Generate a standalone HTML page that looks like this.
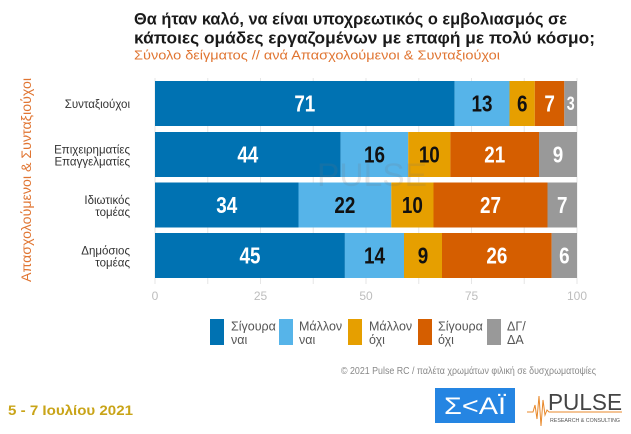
<!DOCTYPE html>
<html><head><meta charset="utf-8"><style>
html,body{margin:0;padding:0;background:#fff;}
svg{display:block;font-family:"Liberation Sans","DejaVu Sans",sans-serif;}
</style></head><body>
<svg width="631" height="434" viewBox="0 0 631 434" xmlns="http://www.w3.org/2000/svg">
<rect width="631" height="434" fill="#fff"/>
<!-- Title -->
<text x="134" y="24.5" font-size="17" font-weight="bold" fill="#1a1a1a" textLength="433" lengthAdjust="spacingAndGlyphs">Θα ήταν καλό, να είναι υποχρεωτικός ο εμβολιασμός σε</text>
<text x="134" y="43.5" font-size="17" font-weight="bold" fill="#1a1a1a" textLength="461" lengthAdjust="spacingAndGlyphs">κάποιες ομάδες εργαζομένων με επαφή με πολύ κόσμο;</text>
<text x="134" y="59.5" font-size="13" fill="#e07532" textLength="366" lengthAdjust="spacingAndGlyphs">Σύνολο δείγματος // ανά Απασχολούμενοι &amp; Συνταξιούχοι</text>
<!-- y axis title -->
<text transform="translate(31,180) rotate(-90)" text-anchor="middle" font-size="14" fill="#e07532" textLength="204" lengthAdjust="spacingAndGlyphs">Απασχολούμενοι &amp; Συνταξιούχοι</text>
<!-- gridlines -->
<g stroke="#e6e6e6" stroke-width="1">
<line x1="155" y1="78" x2="155" y2="284"/>
<line x1="207.75" y1="78" x2="207.75" y2="284"/>
<line x1="260.5" y1="78" x2="260.5" y2="284"/>
<line x1="313.25" y1="78" x2="313.25" y2="284"/>
<line x1="366" y1="78" x2="366" y2="284"/>
<line x1="418.75" y1="78" x2="418.75" y2="284"/>
<line x1="471.5" y1="78" x2="471.5" y2="284"/>
<line x1="524.25" y1="78" x2="524.25" y2="284"/>
<line x1="577" y1="78" x2="577" y2="284"/>
</g>
<!-- bars -->
<g>
<rect x="155" y="81" width="299.6" height="45" fill="#0072B2"/>
<rect x="454.6" y="81" width="54.9" height="45" fill="#56B4E9"/>
<rect x="509.5" y="81" width="25.3" height="45" fill="#E69F00"/>
<rect x="534.8" y="81" width="29.5" height="45" fill="#D55E00"/>
<rect x="564.3" y="81" width="12.7" height="45" fill="#999999"/>

<rect x="155" y="132" width="185.7" height="45" fill="#0072B2"/>
<rect x="340.7" y="132" width="67.5" height="45" fill="#56B4E9"/>
<rect x="408.2" y="132" width="42.2" height="45" fill="#E69F00"/>
<rect x="450.4" y="132" width="88.6" height="45" fill="#D55E00"/>
<rect x="539" y="132" width="38" height="45" fill="#999999"/>

<rect x="155" y="182.5" width="143.5" height="45" fill="#0072B2"/>
<rect x="298.5" y="182.5" width="92.8" height="45" fill="#56B4E9"/>
<rect x="391.3" y="182.5" width="42.2" height="45" fill="#E69F00"/>
<rect x="433.5" y="182.5" width="114" height="45" fill="#D55E00"/>
<rect x="547.5" y="182.5" width="29.5" height="45" fill="#999999"/>

<rect x="155" y="233" width="189.9" height="45" fill="#0072B2"/>
<rect x="344.9" y="233" width="59.1" height="45" fill="#56B4E9"/>
<rect x="404" y="233" width="38" height="45" fill="#E69F00"/>
<rect x="442" y="233" width="109.7" height="45" fill="#D55E00"/>
<rect x="551.7" y="233" width="25.3" height="45" fill="#999999"/>
</g>
<!-- watermark -->
<g opacity="0.16">
<text x="372" y="186" text-anchor="middle" font-size="32" fill="#777" textLength="110" lengthAdjust="spacingAndGlyphs">PULSE</text>
</g>
<!-- value labels -->
<g font-size="23" font-weight="bold" text-anchor="middle">
<text transform="translate(304.8,111.5) scale(0.82,1)" fill="#fff">71</text>
<text transform="translate(482,111.5) scale(0.82,1)" fill="#111">13</text>
<text transform="translate(522.2,111.5) scale(0.82,1)" fill="#111">6</text>
<text transform="translate(549.6,111.5) scale(0.82,1)" fill="#fff">7</text>
<text transform="translate(570.7,110) scale(0.75,1)" fill="#fff" font-size="19">3</text>

<text transform="translate(247.8,162.5) scale(0.82,1)" fill="#fff">44</text>
<text transform="translate(374.5,162.5) scale(0.82,1)" fill="#111">16</text>
<text transform="translate(429.3,162.5) scale(0.82,1)" fill="#111">10</text>
<text transform="translate(494.7,162.5) scale(0.82,1)" fill="#fff">21</text>
<text transform="translate(558,162.5) scale(0.82,1)" fill="#fff">9</text>

<text transform="translate(226.7,213) scale(0.82,1)" fill="#fff">34</text>
<text transform="translate(344.9,213) scale(0.82,1)" fill="#111">22</text>
<text transform="translate(412.4,213) scale(0.82,1)" fill="#111">10</text>
<text transform="translate(490.5,213) scale(0.82,1)" fill="#fff">27</text>
<text transform="translate(562.2,213) scale(0.82,1)" fill="#fff">7</text>

<text transform="translate(250,263.5) scale(0.82,1)" fill="#fff">45</text>
<text transform="translate(374.5,263.5) scale(0.82,1)" fill="#111">14</text>
<text transform="translate(423,263.5) scale(0.82,1)" fill="#111">9</text>
<text transform="translate(496.9,263.5) scale(0.82,1)" fill="#fff">26</text>
<text transform="translate(564.4,263.5) scale(0.82,1)" fill="#fff">6</text>
</g>
<!-- category labels -->
<g font-size="11.5" fill="#333" text-anchor="end">
<text x="130" y="108">Συνταξιούχοι</text>
<text x="130" y="153.5">Επιχειρηματίες</text>
<text x="130" y="165.5">Επαγγελματίες</text>
<text x="130" y="204">Ιδιωτικός</text>
<text x="130" y="216">τομέας</text>
<text x="130" y="254.5">Δημόσιος</text>
<text x="130" y="266.5">τομέας</text>
</g>
<!-- x ticks -->
<g font-size="12" fill="#bdbdbd" text-anchor="middle">
<text x="155" y="300">0</text>
<text x="260.5" y="300">25</text>
<text x="366" y="300">50</text>
<text x="471.5" y="300">75</text>
<text x="577" y="300">100</text>
</g>
<!-- legend -->
<g font-size="12.5" fill="#555">
<rect x="210" y="319" width="14" height="26" fill="#0072B2"/>
<text x="231" y="330.5">Σίγουρα</text><text x="231" y="344">ναι</text>
<rect x="279" y="319" width="14" height="26" fill="#56B4E9"/>
<text x="299" y="330.5">Μάλλον</text><text x="299" y="344">ναι</text>
<rect x="348" y="319" width="14" height="26" fill="#E69F00"/>
<text x="369" y="330.5">Μάλλον</text><text x="369" y="344">όχι</text>
<rect x="418" y="319" width="14" height="26" fill="#D55E00"/>
<text x="438" y="330.5">Σίγουρα</text><text x="438" y="344">όχι</text>
<rect x="487" y="319" width="14" height="26" fill="#999999"/>
<text x="507" y="330.5">ΔΓ/</text><text x="507" y="344">ΔΑ</text>
</g>
<!-- copyright -->
<text x="341" y="374" font-size="10" fill="#888" textLength="255" lengthAdjust="spacingAndGlyphs">© 2021 Pulse RC  /  παλέτα χρωμάτων φιλική σε δυσχρωματοψίες</text>
<!-- date -->
<text x="8" y="415" font-size="14" font-weight="bold" fill="#c9a418" textLength="125" lengthAdjust="spacingAndGlyphs">5 - 7  Ιουλίου  2021</text>
<!-- SKAI logo -->
<rect x="435" y="388" width="80" height="35" fill="#2585e2"/>
<text x="475" y="414" text-anchor="middle" font-size="24" fill="#fff" textLength="62" lengthAdjust="spacingAndGlyphs">Σ&lt;ΑΪ</text>
<!-- PULSE logo -->
<polyline points="527,412 533,412 535,405 537,419 539,396 541,426 543,400 545,415 547,410 549,412 622,412" fill="none" stroke="#e8892b" stroke-width="1"/>
<text x="548" y="410" font-size="23" fill="#444" textLength="74" lengthAdjust="spacingAndGlyphs">PULSE</text>
<text x="550" y="422" font-size="5" fill="#555" textLength="70" lengthAdjust="spacingAndGlyphs">RESEARCH &amp; CONSULTING</text>
</svg>
</body></html>
